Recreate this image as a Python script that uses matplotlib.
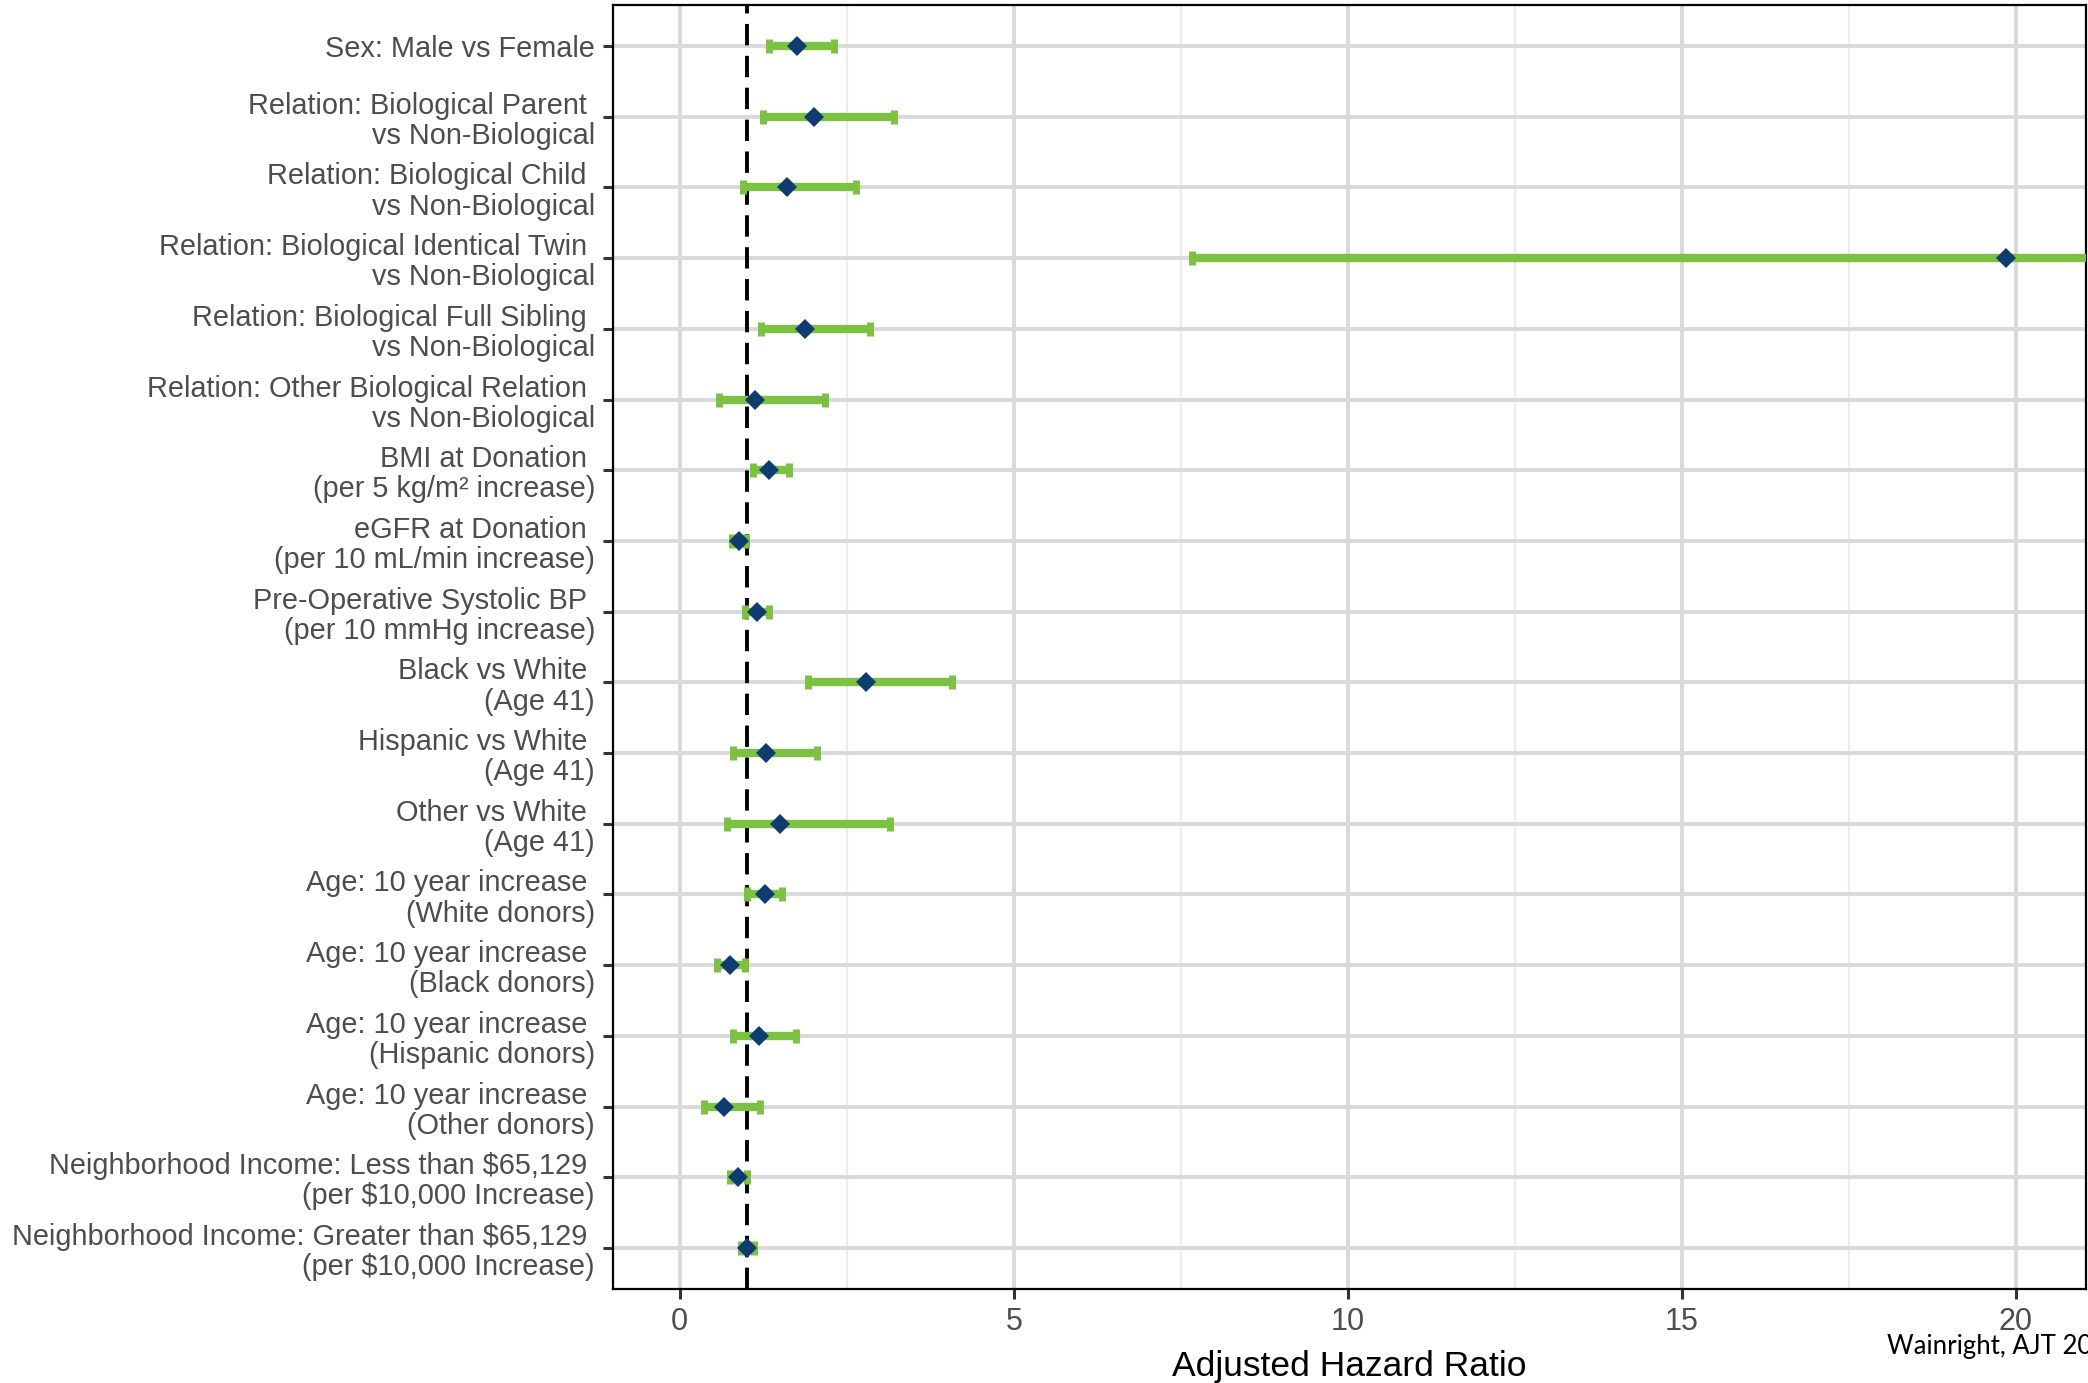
import matplotlib
matplotlib.use("Agg")
import matplotlib.pyplot as plt

# adjusted hazard ratios with 95% CI, top row first
labels = [
    "Sex: Male vs Female",
    "Relation: Biological Parent \nvs Non-Biological",
    "Relation: Biological Child \nvs Non-Biological",
    "Relation: Biological Identical Twin \nvs Non-Biological",
    "Relation: Biological Full Sibling \nvs Non-Biological",
    "Relation: Other Biological Relation \nvs Non-Biological",
    "BMI at Donation \n(per 5 kg/m² increase)",
    "eGFR at Donation \n(per 10 mL/min increase)",
    "Pre-Operative Systolic BP \n(per 10 mmHg increase)",
    "Black vs White \n(Age 41)",
    "Hispanic vs White \n(Age 41)",
    "Other vs White \n(Age 41)",
    "Age: 10 year increase \n(White donors)",
    "Age: 10 year increase \n(Black donors)",
    "Age: 10 year increase \n(Hispanic donors)",
    "Age: 10 year increase \n(Other donors)",
    "Neighborhood Income: Less than \\$65,129 \n(per \\$10,000 Increase)",
    "Neighborhood Income: Greater than \\$65,129 \n(per \\$10,000 Increase)",
]
hr = [1.76, 2.01, 1.60, 19.85, 1.87, 1.13, 1.34, 0.88, 1.16,
      2.79, 1.29, 1.50, 1.27, 0.75, 1.18, 0.66, 0.87, 1.01]
lower = [1.33, 1.25, 0.95, 7.67, 1.22, 0.58, 1.09, 0.78, 0.98,
         1.92, 0.80, 0.71, 1.01, 0.55, 0.80, 0.36, 0.75, 0.91]
upper = [2.31, 3.21, 2.64, 50.0, 2.84, 2.18, 1.64, 0.99, 1.34,
         4.07, 2.06, 3.14, 1.53, 0.98, 1.74, 1.20, 1.00, 1.11]
xticks = [0, 5, 10, 15, 20]

green = "#7cc142"
navy = "#0e3c6e"
txt_gray = "#4d4d4d"

W, H = 2088, 1383
fig = plt.figure(figsize=(W / 100, H / 100), dpi=100)
ax = fig.add_axes([613 / W, 1 - 1289 / H, (2086 - 613) / W, (1289 - 5) / H])

n = len(labels)
ypos = list(range(n, 0, -1))

# grid
for x in [2.5, 7.5, 12.5, 17.5]:
    ax.axvline(x, color="#ececec", lw=1.6, zorder=0)
for x in xticks:
    ax.axvline(x, color="#d9d9d9", lw=2.8, zorder=0)
for y in ypos:
    ax.axhline(y, color="#d9d9d9", lw=2.8, zorder=0)

ax.axvline(1, color="black", lw=2.8, dashes=(5.5, 2.7), zorder=2)

xerr = [[h - l for h, l in zip(hr, lower)], [u - h for h, u in zip(hr, upper)]]
ax.errorbar(hr, ypos, xerr=xerr, fmt="none", ecolor=green, elinewidth=6.0,
            capsize=5.0, capthick=5.0, zorder=3)
ax.plot(hr, ypos, linestyle="none", marker="D", markersize=10,
        color=navy, markeredgewidth=0, zorder=4)

ax.set_xlim(-1.0, 21.05)
ax.set_ylim(0.42, n + 0.58)
ax.set_xticks(xticks)
ax.set_yticks(ypos)
ax.set_yticklabels(labels, ha="right", family="Liberation Sans", fontsize=20.8,
                   color=txt_gray, linespacing=1.1)
ax.set_xticklabels([str(x) for x in xticks], family="Liberation Sans",
                   fontsize=22, color=txt_gray)
ax.tick_params(axis="both", length=7, width=2.2, color="#333333")
ax.tick_params(axis="y", pad=6)
ax.tick_params(axis="x", pad=6)

for s in ax.spines.values():
    s.set_linewidth(1.6)
    s.set_color("black")

ax.set_xlabel("Adjusted Hazard Ratio", family="Liberation Sans", fontsize=25.5,
              color="black", labelpad=9)

# source note, runs off the right edge of the figure
fig.text(1887 / W, 1 - 1354 / H, "Wainright, AJT 20", family="Lato",
         fontsize=18.5, color="black", ha="left", va="baseline")

fig.savefig("out.png", dpi=100)
